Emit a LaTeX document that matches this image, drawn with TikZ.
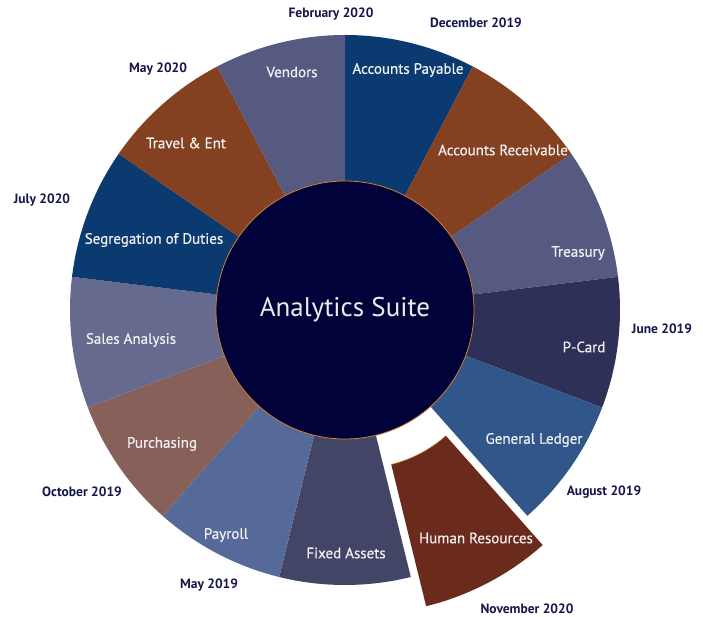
\documentclass[tikz,border=0pt]{standalone}
\usepackage{fontspec}
\setmainfont{PT Sans}
\newfontfamily\partfont[FakeBold=0.6]{PT Sans}
\usepackage{xcolor}
\usepackage{tikz}
\usetikzlibrary{positioning}

\definecolor{darkblue}{HTML}{0B3A70}
\definecolor{rust}{HTML}{834122}
\definecolor{slate}{HTML}{565A80}
\definecolor{nightblue}{HTML}{2E3057}
\definecolor{ledgerblue}{HTML}{30568A}
\definecolor{hrbrown}{HTML}{6A2A1C}
\definecolor{assetgray}{HTML}{424565}
\definecolor{payblue}{HTML}{566A9A}
\definecolor{mauve}{HTML}{866059}
\definecolor{lavender}{HTML}{676A8F}
\definecolor{core}{HTML}{02023A}
\definecolor{rim}{HTML}{D08030}
\definecolor{dateink}{HTML}{15164A}

% ring piece: inner radius, start angle, end angle, colour
\newcommand\ringpart[4]{\fill[#4] (#2:#1) arc[start angle=#2, end angle=#3, radius=#1] -- (#3:275pt) arc[start angle=#3, end angle=#2, radius=275pt] -- cycle;}

\begin{document}
\begin{tikzpicture}

\tikzstyle{part} = [text=white!94!black, font=\partfont\fontsize{15}{17}\selectfont]
\tikzstyle{date} = [text=dateink, font=\bfseries\fontsize{13.5}{15}\selectfont]

\useasboundingbox (-345pt,-307pt) rectangle (358pt,310pt);

\ringpart{120pt}{90}{62.308}{darkblue}
\ringpart{120pt}{62.308}{34.615}{rust}
\ringpart{120pt}{34.615}{6.923}{slate}
\ringpart{120pt}{6.923}{-20.769}{nightblue}
\ringpart{120pt}{-20.769}{-48.462}{ledgerblue}
\ringpart{120pt}{-76.154}{-103.846}{assetgray}
\ringpart{120pt}{-103.846}{-131.538}{payblue}
\ringpart{120pt}{-131.538}{-159.231}{mauve}
\ringpart{120pt}{-159.231}{-186.923}{lavender}
\ringpart{120pt}{-186.923}{-214.615}{darkblue}
\ringpart{120pt}{-214.615}{-242.308}{rust}
\ringpart{120pt}{-242.308}{-270}{slate}

% pulled-out piece
\begin{scope}[shift={(-62.3:33pt)}]
\ringpart{129pt}{-48.462}{-76.154}{hrbrown}
\draw [rim, line width=0.5pt] (-48.462:129pt) arc[start angle=-48.462, end angle=-76.154, radius=129pt];
\end{scope}

\node [draw=rim, line width=0.8pt, fill=core, circle, minimum size=258pt, inner sep=0pt, text=white!92!black, font=\fontsize{27}{29}\selectfont] (analytics-suite) at (0,0) {Analytics Suite};

\node [part] (accounts-payable) at (63pt,240pt) {Accounts Payable};
\node [part] (accounts-receivable) at (158pt,160pt) {Accounts Receivable};
\node [part] (treasury) at (233pt,57pt) {Treasury};
\node [part] (p-card) at (239pt,-37pt) {P-Card};
\node [part] (general-ledger) at (189pt,-130pt) {General Ledger};
\node [part] (human-resources) at (131pt,-228pt) {Human Resources};
\node [part] (fixed-assets) at (1pt,-243pt) {Fixed Assets};
\node [part] (payroll) at (-119pt,-225pt) {Payroll};
\node [part] (purchasing) at (-183pt,-134pt) {Purchasing};
\node [part] (sales-analysis) at (-214pt,-30pt) {Sales Analysis};
\node [part] (segregation) at (-191pt,70pt) {Segregation of Duties};
\node [part] (travel-ent) at (-159pt,167pt) {Travel \& Ent};
\node [part] (vendors) at (-53pt,238pt) {Vendors};

\node [date] (feb-2020) at (-14pt,296pt) {February 2020};
\node [date] (dec-2019) at (131pt,287pt) {December 2019};
\node [date] (may-2020) at (-187pt,241pt) {May 2020};
\node [date] (jul-2020) at (-303pt,110pt) {July 2020};
\node [date] (jun-2019) at (317pt,-19pt) {June 2019};
\node [date] (aug-2019) at (259pt,-182pt) {August 2019};
\node [date] (oct-2019) at (-263pt,-182pt) {October 2019};
\node [date] (may-2019) at (-136pt,-275pt) {May 2019};
\node [date] (nov-2020) at (182pt,-299pt) {November 2020};
\end{tikzpicture}
\end{document}
